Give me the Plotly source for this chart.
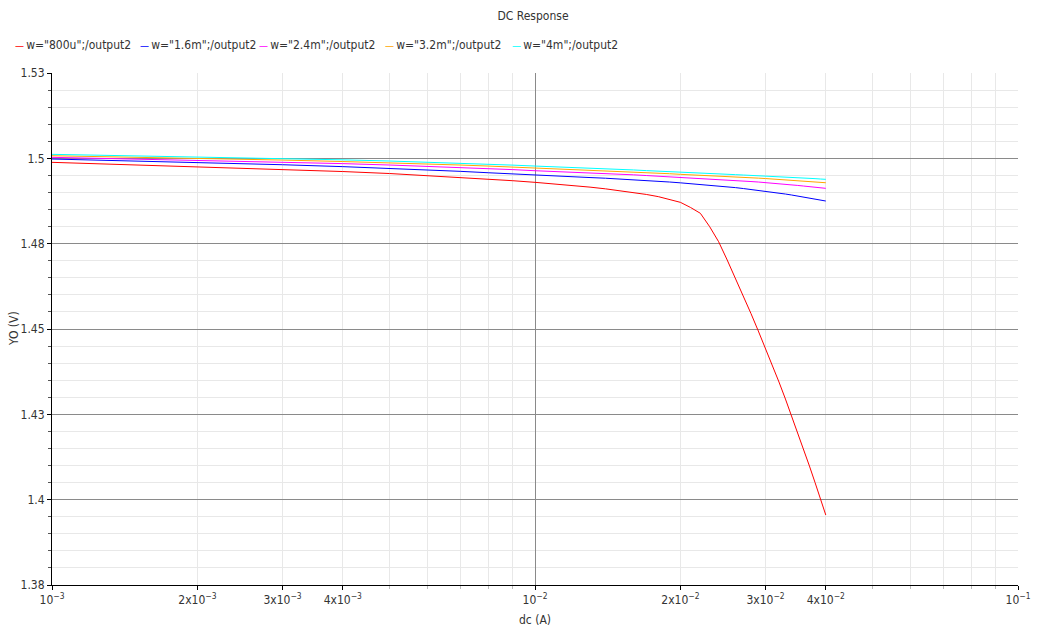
import plotly.graph_objects as go

# DC sweep (A)
dc = [0.001, 0.002, 0.003, 0.004, 0.005, 0.006, 0.007, 0.008, 0.009, 0.010,
      0.011, 0.012, 0.013, 0.014, 0.015, 0.016, 0.017, 0.018, 0.019, 0.020,
      0.021, 0.022, 0.023, 0.024, 0.025, 0.026, 0.027, 0.028, 0.029, 0.030,
      0.031, 0.032, 0.033, 0.034, 0.035, 0.036, 0.037, 0.038, 0.039, 0.040]

w_800u = [1.49883, 1.49754, 1.49678, 1.49613, 1.49555, 1.49496, 1.49443, 1.49394, 1.49344, 1.49297,
          1.49250, 1.49203, 1.49156, 1.49106, 1.49054, 1.49001, 1.48942, 1.48878, 1.48802, 1.48711,
          1.48559, 1.48389, 1.47996, 1.47557, 1.47021, 1.46493, 1.45966, 1.45453, 1.44940, 1.44442,
          1.43944, 1.43446, 1.42948, 1.42450, 1.41958, 1.41469, 1.40985, 1.40502, 1.40024, 1.39550]

w_1p6m = [1.49980, 1.49880, 1.49813, 1.49757, 1.49707, 1.49660, 1.49619, 1.49578, 1.49540, 1.49502,
          1.49478, 1.49458, 1.49437, 1.49417, 1.49396, 1.49373, 1.49352, 1.49329, 1.49306, 1.49282,
          1.49259, 1.49235, 1.49212, 1.49188, 1.49165, 1.49142, 1.49115, 1.49089, 1.49062, 1.49036,
          1.49010, 1.48983, 1.48954, 1.48925, 1.48895, 1.48866, 1.48837, 1.48808, 1.48778, 1.48749]

w_2p4m = [1.50029, 1.49947, 1.49892, 1.49845, 1.49804, 1.49769, 1.49733, 1.49698, 1.49669, 1.49637,
          1.49616, 1.49596, 1.49578, 1.49558, 1.49537, 1.49517, 1.49496, 1.49478, 1.49458, 1.49437,
          1.49423, 1.49408, 1.49394, 1.49379, 1.49364, 1.49350, 1.49335, 1.49320, 1.49306, 1.49291,
          1.49273, 1.49256, 1.49241, 1.49224, 1.49206, 1.49188, 1.49171, 1.49156, 1.49139, 1.49121]

w_3p2m = [1.50076, 1.50003, 1.49950, 1.49906, 1.49871, 1.49836, 1.49804, 1.49774, 1.49745, 1.49716,
          1.49698, 1.49678, 1.49660, 1.49643, 1.49622, 1.49604, 1.49587, 1.49569, 1.49549, 1.49531,
          1.49519, 1.49508, 1.49493, 1.49481, 1.49470, 1.49458, 1.49446, 1.49432, 1.49420, 1.49408,
          1.49396, 1.49385, 1.49370, 1.49358, 1.49347, 1.49335, 1.49323, 1.49309, 1.49297, 1.49285]

w_4m = [1.50117, 1.50047, 1.49997, 1.49956, 1.49921, 1.49889, 1.49856, 1.49830, 1.49801, 1.49774,
        1.49754, 1.49736, 1.49716, 1.49698, 1.49678, 1.49660, 1.49640, 1.49622, 1.49602, 1.49584,
        1.49572, 1.49563, 1.49552, 1.49543, 1.49531, 1.49522, 1.49511, 1.49502, 1.49490, 1.49481,
        1.49473, 1.49461, 1.49452, 1.49443, 1.49432, 1.49423, 1.49414, 1.49405, 1.49394, 1.49385]

series_names = ['w="800u";/output2', 'w="1.6m";/output2', 'w="2.4m";/output2',
                'w="3.2m";/output2', 'w="4m";/output2']
series_values = [w_800u, w_1p6m, w_2p4m, w_3p2m, w_4m]
series_colors = ['#ff0000', '#0000ff', '#ff00ff', '#ffa500', '#00ffff']

x_tickvals = [1e-3, 2e-3, 3e-3, 4e-3, 1e-2, 2e-2, 3e-2, 4e-2, 1e-1]
x_ticktext = ['10<sup>\u22123</sup>', '2x10<sup>\u22123</sup>', '3x10<sup>\u22123</sup>',
              '4x10<sup>\u22123</sup>', '10<sup>\u22122</sup>', '2x10<sup>\u22122</sup>',
              '3x10<sup>\u22122</sup>', '4x10<sup>\u22122</sup>', '10<sup>\u22121</sup>']
x_minor = [2e-3, 3e-3, 4e-3, 5e-3, 6e-3, 7e-3, 8e-3, 9e-3,
           2e-2, 3e-2, 4e-2, 5e-2, 6e-2, 7e-2, 8e-2, 9e-2]
x_major_grid = [1e-2]
y_tickvals = [1.375, 1.4, 1.425, 1.45, 1.475, 1.5, 1.525]
y_ticktext = ['1.38', '1.4', '1.43', '1.45', '1.48', '1.5', '1.53']

FONT = 'DejaVu Sans Condensed, DejaVu Sans, sans-serif'
W, H = 1038, 629
ML, MR, MT, MB = 52, 20, 73, 44
PW, PH = W - ML - MR, H - MT - MB

fig = go.Figure()
# invisible helper so that the overlay axis (major x grid) is drawn
fig.add_trace(go.Scatter(x=dc[:1], y=w_800u[:1], xaxis='x2', mode='markers',
                         marker=dict(size=1, opacity=0), hoverinfo='skip', showlegend=False))
for name, vals, col in zip(series_names, series_values, series_colors):
    fig.add_trace(go.Scatter(x=dc, y=vals, mode='lines', name=name,
                             line=dict(color=col, width=1), showlegend=False))

annotations = []
# legend row
legend_px = [13, 138, 257, 383, 510]
for px, name, col in zip(legend_px, series_names, series_colors):
    annotations.append(dict(
        xref='paper', yref='paper', x=(px - ML) / PW, y=(H - MB - 45) / PH,
        xanchor='left', yanchor='middle', showarrow=False,
        text="<span style='color:%s;font-size:10px'>\u2014</span>\u2009%s" % (col, name),
        font=dict(family=FONT, size=12, color='#333333')))
# axis titles
annotations.append(dict(xref='paper', yref='paper', x=(535 - ML) / PW, y=(H - MB - 620) / PH,
                        xanchor='center', yanchor='middle', showarrow=False, text='dc (A)',
                        font=dict(family=FONT, size=12, color='#333333')))
annotations.append(dict(xref='paper', yref='paper', x=(14 - ML) / PW, y=(H - MB - 329) / PH,
                        xanchor='center', yanchor='middle', showarrow=False, text='YO (V)',
                        textangle=-90, font=dict(family=FONT, size=12, color='#333333')))

fig.update_layout(
    width=W, height=H, autosize=False,
    margin=dict(l=ML, r=MR, t=MT, b=MB, pad=0, autoexpand=False),
    paper_bgcolor='white', plot_bgcolor='white',
    font=dict(family=FONT, size=12, color='#333333'),
    title=dict(text='DC Response', x=(533) / W, xanchor='center', y=1 - 16 / H, yanchor='middle',
               font=dict(family=FONT, size=12, color='#333333')),
    annotations=annotations,
    xaxis=dict(type='log', range=[-3, -1], tickmode='array', tickvals=x_tickvals, ticktext=x_ticktext,
               automargin=False,
               showgrid=False, zeroline=False, showline=True, linecolor='#000000', linewidth=1,
               ticks='outside', ticklen=4, tickcolor='#000000',
               tickfont=dict(family=FONT, size=12, color='#333333'),
               minor=dict(tickmode='array', tickvals=x_minor, showgrid=True, gridcolor='#e8e8e8',
                          gridwidth=1, ticks='outside', ticklen=3, tickcolor='#bbbbbb')),
    xaxis2=dict(type='log', range=[-3, -1], overlaying='x', anchor='y', side='bottom',
                tickmode='array', tickvals=x_major_grid, showticklabels=False, ticks='',
                showgrid=True, gridcolor='#8a8a8a', gridwidth=1, zeroline=False,
                showline=False, automargin=False),
    yaxis=dict(range=[1.375, 1.525], tickmode='array', tickvals=y_tickvals, ticktext=y_ticktext,
               automargin=False,
               showgrid=True, gridcolor='#8a8a8a', gridwidth=1, zeroline=False,
               showline=True, linecolor='#000000', linewidth=1,
               ticks='outside', ticklen=4, tickcolor='#000000',
               tickfont=dict(family=FONT, size=12, color='#333333'),
               minor=dict(tick0=1.375, dtick=0.005, showgrid=True, gridcolor='#e8e8e8', gridwidth=1,
                          ticks='outside', ticklen=3, tickcolor='#555555')),
)

fig.write_html('out.html', config={'responsive': False})
